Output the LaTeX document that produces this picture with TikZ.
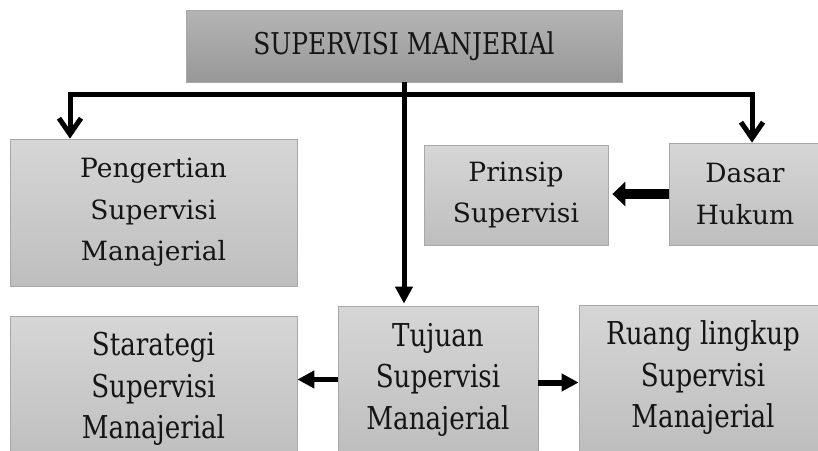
\documentclass[tikz,border=0pt]{standalone}
\usepackage{fontspec}
\setmainfont{DejaVu Serif}
\newfontfamily\condfont[FakeStretch=0.83]{DejaVu Serif}
\usetikzlibrary{arrows.meta}
\definecolor{boxline}{HTML}{A8A8A8}
\definecolor{lighttop}{HTML}{D6D6D6}
\definecolor{lightbot}{HTML}{BEBEBE}
\definecolor{darktop}{HTML}{B4B4B4}
\definecolor{darkbot}{HTML}{989898}
\definecolor{txt}{HTML}{151515}
\begin{document}
\begin{tikzpicture}[x=1pt,y=-1pt,
  box/.style={draw=boxline, line width=0.8pt, top color=lighttop, bottom color=lightbot,
    inner sep=0pt, align=center, text=txt},
  titlebox/.style={box, top color=darktop, bottom color=darkbot},
  normtext/.style={font=\fontsize{26.5}{41.5}\selectfont},
  condtext/.style={font=\condfont\fontsize{31.5}{41.5}\selectfont},
  thick5/.style={line width=5pt, line join=miter},
  barb/.style={thick5, arrows={Straight Barb[length=16pt,width=22pt]-Straight Barb[length=16pt,width=22pt]}},
  solidtip/.style={arrows={-Triangle[length=17pt,width=17pt]}}
]
\useasboundingbox (0,0) rectangle (818,450);
\fill[white] (0,0) rectangle (818,450);
\clip (0,0) rectangle (818,450);

\node[titlebox, condtext, font=\condfont\fontsize{30}{36}\selectfont, minimum width=436pt, minimum height=72pt] (top) at (404,46) {SUPERVISI MANJERIAl};

\node[box, normtext, minimum width=287pt, minimum height=147pt] (peng) at (153.5,212.5) {Pengertian\\Supervisi\\Manajerial};
\node[box, normtext, minimum width=184pt, minimum height=100pt] (prin) at (516,195) {Prinsip\\Supervisi};
\node[box, normtext, minimum width=152pt, minimum height=102pt] (dasar) at (745,194) {Dasar\\Hukum};

\node[box, condtext, minimum width=200pt, minimum height=147pt] (tuj) at (438,379.5) {Tujuan\\Supervisi\\Manajerial};
\node[box, condtext, minimum width=287pt, minimum height=146pt] (strat) at (153.5,389) {Starategi\\Supervisi\\Manajerial};
\node[box, condtext, minimum width=248pt, minimum height=146pt] (ruang) at (703,378) {Ruang lingkup\\Supervisi\\Manajerial};

\coordinate (lt) at (70,94);
\coordinate (rt) at (752,94);

% stem from title to Tujuan
\draw[thick5, solidtip, shorten >=2pt] (top.south) -- (top.south |- tuj.north);
% bar with barbs
\draw[barb] (lt |- peng.north) -- (lt) -- (rt) -- (rt |- dasar.north);
% Dasar -> Prinsip
\draw[line width=10pt, arrows={-Triangle[length=13pt,width=24pt]}, shorten >=4pt] (dasar.west) -- (dasar.west -| prin.east);
% Tujuan -> Strategi / Ruang
\draw[thick5, solidtip] (tuj.west) -- (tuj.west -| strat.east);
\draw[line width=6pt, solidtip] ([yshift=-3pt]tuj.east) -- ([yshift=-3pt]tuj.east -| ruang.west);
\end{tikzpicture}
\end{document}
